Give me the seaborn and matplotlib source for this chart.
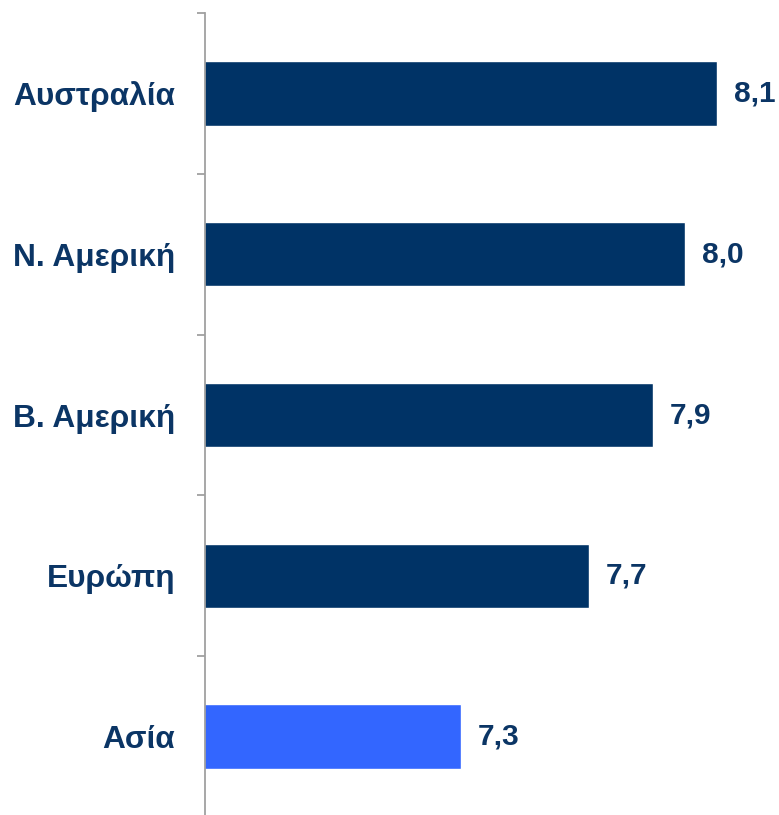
import matplotlib
matplotlib.use("Agg")
import matplotlib.pyplot as plt
import seaborn as sns
import numpy as np

# Data
regions = ["Αυστραλία", "Ν. Αμερική", "Β. Αμερική", "Ευρώπη", "Ασία"]
scores = [8.1, 8.0, 7.9, 7.7, 7.3]
bar_colors = ["#003366", "#003366", "#003366", "#003366", "#3366FF"]

navy = "#0B3565"

sns.set_theme(style="white")
plt.rcParams["font.family"] = ["Liberation Sans", "DejaVu Sans"]

fig = plt.figure(figsize=(7.79, 8.15), dpi=100)
ax = fig.add_axes([204.5 / 779, -2 / 815, 576 / 779, 804 / 815])

sns.barplot(x=scores, y=regions, hue=regions, palette=bar_colors,
            legend=False, width=0.4, orient="h", saturation=1, ax=ax)

ax.set_xlim(6.5, 8.3)
ax.set_ylim(len(regions) - 0.5, -0.5)

# value labels with comma decimals
for cont in ax.containers:
    ax.bar_label(cont, labels=[f"{v:.1f}".replace(".", ",") for v in cont.datavalues],
                 padding=12.5, fontsize=21.5, fontweight="bold", color=navy)

# axis styling
for side in ["top", "right", "bottom"]:
    ax.spines[side].set_visible(False)
ax.spines["left"].set_color("#A0A0A0")
ax.spines["left"].set_linewidth(1.3)
ax.set_xticks([])
ax.set_xlabel("")
ax.set_ylabel("")

ax.set_yticks(np.arange(len(regions)))
ax.set_yticklabels(regions, fontsize=22.8, fontweight="bold", color=navy)
ax.tick_params(axis="y", which="major", length=0, pad=21)
ax.set_yticks(np.arange(len(regions) + 1) - 0.5, minor=True)
ax.tick_params(axis="y", which="minor", left=True, length=6, width=1.3, color="#A0A0A0")

fig.savefig("out.png", dpi=100)
